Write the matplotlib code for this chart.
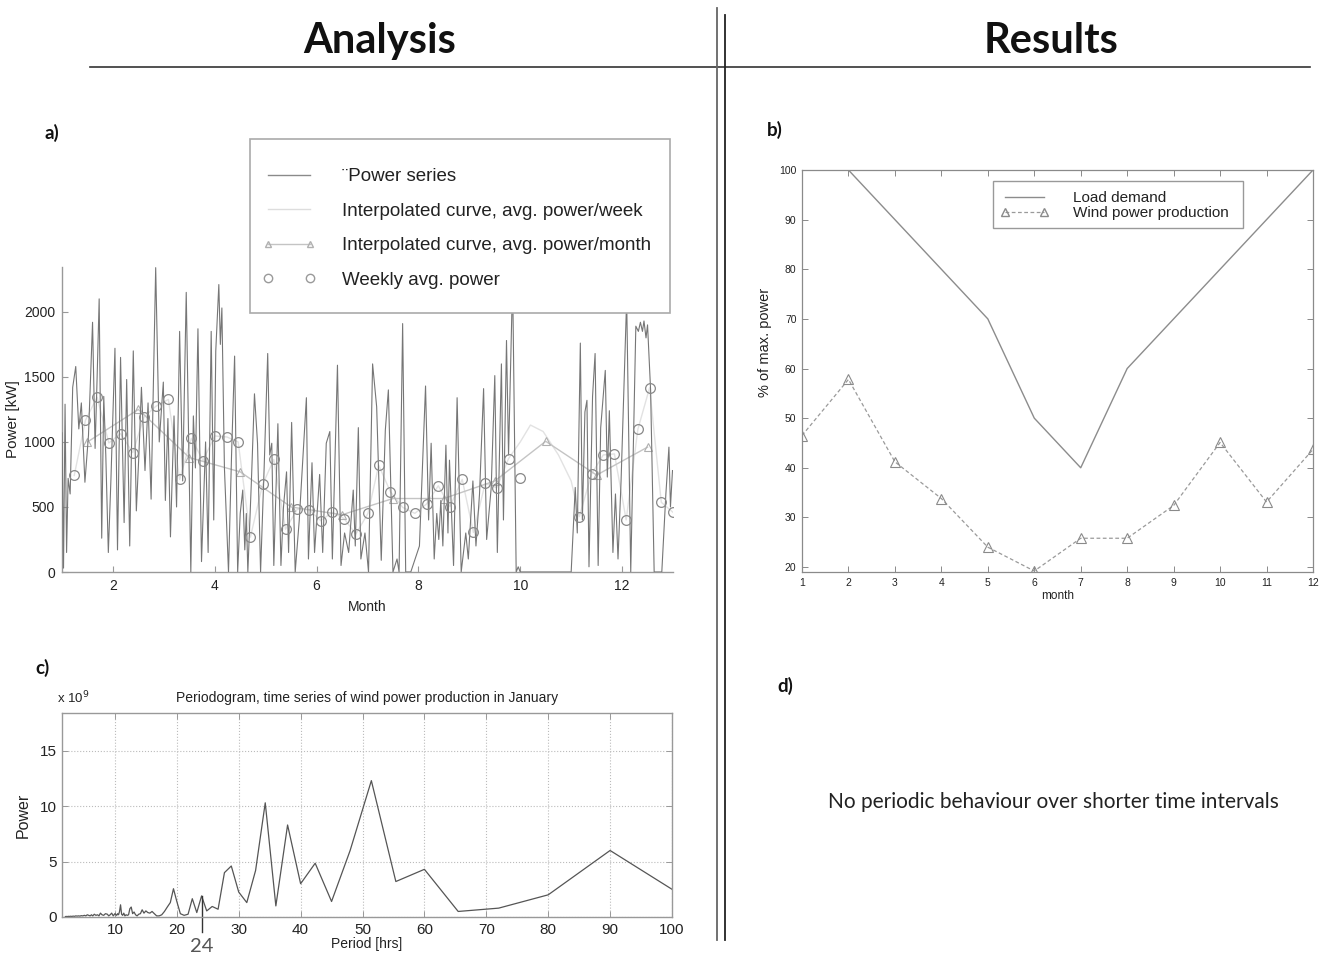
import numpy as np
import matplotlib
matplotlib.use("Agg")
import matplotlib.pyplot as plt
from matplotlib.lines import Line2D
from matplotlib.patches import Rectangle

# ---------------- panel a data ----------------
power_month = [1.00, 1.03, 1.06, 1.09, 1.12, 1.16, 1.21, 1.27, 1.33, 1.38, 1.45, 1.52, 1.60, 1.65, 1.69,
               1.73, 1.78, 1.82, 1.86, 1.91, 1.96, 2.04, 2.09, 2.15, 2.22, 2.27, 2.33, 2.40, 2.46, 2.51,
               2.56, 2.63, 2.69, 2.75, 2.84, 2.91, 2.99, 3.03, 3.08, 3.13, 3.20, 3.25, 3.31, 3.37, 3.44,
               3.53, 3.58, 3.62, 3.67, 3.74, 3.82, 3.87, 3.93, 3.98, 4.02, 4.08, 4.11, 4.14, 4.19, 4.27,
               4.33, 4.39, 4.45, 4.50, 4.55, 4.59, 4.62, 4.65, 4.72, 4.78, 4.84, 4.90, 4.97, 5.04, 5.08,
               5.12, 5.16, 5.24, 5.30, 5.35, 5.41, 5.45, 5.51, 5.58, 5.66, 5.72, 5.80, 5.84, 5.91, 5.96,
               6.06, 6.12, 6.19, 6.26, 6.31, 6.41, 6.48, 6.55, 6.63, 6.72, 6.76, 6.82, 6.87, 6.95, 7.02,
               7.10, 7.18, 7.27, 7.35, 7.41, 7.50, 7.58, 7.62, 7.69, 7.75, 7.85, 8.02, 8.14, 8.20, 8.25,
               8.31, 8.36, 8.40, 8.44, 8.48, 8.54, 8.58, 8.61, 8.69, 8.76, 8.84, 8.93, 8.98, 9.07, 9.13,
               9.20, 9.28, 9.34, 9.43, 9.50, 9.55, 9.63, 9.67, 9.73, 9.77, 9.85, 9.92, 9.96, 10.00, 11.00,
               11.08, 11.12, 11.18, 11.22, 11.27, 11.31, 11.35, 11.42, 11.47, 11.53, 11.58, 11.67, 11.71,
               11.75, 11.82, 11.87, 11.92, 11.98, 12.09, 12.17, 12.27, 12.32, 12.36, 12.40, 12.43, 12.47,
               12.50, 12.56, 12.63, 12.78, 12.82, 12.86, 12.92, 12.95, 12.99]
power_kw = [1070, 30, 1290, 150, 720, 600, 1420, 1580, 1100, 1300, 690, 1050, 1920, 950, 1500,
            2100, 260, 1350, 900, 150, 700, 1720, 170, 1650, 380, 1480, 200, 1700, 470, 900,
            1420, 780, 1300, 560, 2340, 1000, 1460, 550, 1180, 270, 1200, 500, 1850, 700, 2150,
            0, 1200, 800, 1870, 80, 1000, 150, 1850, 400, 1700, 2210, 1750, 2030, 800, 0,
            900, 1660, 0, 450, 630, 170, 450, 0, 700, 1370, 990, 0, 800, 1680, 900,
            990, 50, 1140, 50, 500, 770, 150, 1150, 0, 400, 800, 1340, 100, 840, 150,
            750, 150, 990, 1080, 100, 1590, 50, 300, 150, 630, 200, 1110, 100, 300, 0,
            1600, 1270, 90, 1090, 1400, 0, 100, 0, 1910, 0, 0, 200, 1430, 400, 990,
            100, 450, 250, 550, 200, 975, 300, 860, 50, 1340, 0, 300, 100, 700, 200,
            600, 1410, 250, 650, 1510, 150, 1600, 400, 1780, 900, 2250, 0, 40, 0, 0,
            650, 300, 1760, 400, 1230, 1320, 40, 1350, 1680, 50, 1110, 1550, 730,
            1240, 150, 600, 100, 700, 2100, 0, 1890, 1850, 1920, 1850, 1930, 1800,
            1900, 1400, 0, 0, 300, 600, 960, 500, 780]

week_month = [1.24, 1.46, 1.69, 1.92, 2.15, 2.39, 2.61, 2.84, 3.09, 3.31, 3.54, 3.77, 4.00, 4.24,
              4.46, 4.70, 4.94, 5.16, 5.39, 5.62, 5.86, 6.08, 6.31, 6.54, 6.77, 7.01, 7.22, 7.45,
              7.69, 7.93, 8.16, 8.39, 8.62, 8.86, 9.08, 9.31, 9.54, 9.77, 10.00, 11.16, 11.40,
              11.63, 11.85, 12.08, 12.31, 12.54, 12.77, 13.00]
week_kw = [742, 1166, 1344, 992, 1064, 918, 1191, 1273, 1327, 712, 1028, 857, 1046, 1038,
           1000, 268, 673, 865, 329, 482, 477, 395, 459, 411, 291, 451, 821, 617,
           497, 451, 523, 663, 503, 712, 304, 681, 648, 872, 724, 426, 753,
           900, 908, 400, 1097, 1416, 536, 459]

weekcurve_month = [1.24, 1.46, 1.69, 1.92, 2.15, 2.39, 2.61, 2.84, 3.09, 3.31, 3.54, 3.77, 4.00,
                   4.24, 4.46, 4.70, 4.94, 5.16, 5.39, 5.62, 5.86, 6.08, 6.31, 6.54, 6.77, 7.01,
                   7.22, 7.45, 7.69, 7.93, 8.16, 8.39, 8.62, 8.86, 9.08, 9.31, 9.54, 9.77, 10.00,
                   10.20, 10.45, 10.75, 11.00, 11.16, 11.40, 11.63, 11.85, 12.08, 12.31, 12.54,
                   12.77, 13.00]
weekcurve_kw = [742, 1166, 1344, 992, 1064, 918, 1191, 1273, 1327, 712, 1028, 857, 1046,
                1038, 1000, 268, 673, 865, 329, 482, 477, 395, 459, 411, 291, 451,
                821, 617, 497, 451, 523, 663, 503, 712, 304, 681, 648, 872, 1000,
                1130, 1080, 900, 700, 426, 753, 900, 908, 400, 1097, 1416,
                536, 459]

month_mid = [1.5, 2.5, 3.5, 4.5, 5.5, 6.5, 7.5, 8.5, 9.5, 10.5, 11.5, 12.5]
month_kw = [1000, 1250, 880, 770, 500, 440, 565, 565, 700, 1005, 745, 960]

legend_a = ["\u00a8Power series", "Interpolated curve, avg. power/week",
            "Interpolated curve, avg. power/month", "Weekly avg. power"]

# ---------------- panel b data ----------------
months_b = [1, 2, 3, 4, 5, 6, 7, 8, 9, 10, 11, 12]
load_pct = [100, 100, 90, 80, 70, 50, 40, 60, 70, 80, 90, 100]
wind_pct = [46.5, 57.8, 41.2, 33.8, 24.0, 19.2, 25.8, 25.8, 32.4, 45.1, 33.1, 43.7]
legend_b = ["Load demand", "Wind power production"]

# ---------------- panel c data ----------------
record_hours = 720
harmonic = [7, 8, 9, 10, 11, 12, 13, 14, 15, 16, 17, 18, 19, 20, 21, 22, 23, 24, 25, 26, 27, 28,
            29, 30, 31, 32, 33, 34, 35, 36, 37, 38, 39, 40, 41, 42, 43, 44, 45, 46, 47, 48, 49,
            50, 51, 52, 53, 54, 55, 56, 57, 58, 59, 60, 61, 62, 63, 64, 65, 66, 67, 68, 69,
            70, 72, 74, 76, 78, 80, 82, 85, 88, 91, 94, 97, 100, 104, 108, 112, 116, 120, 125,
            130, 136, 142, 150, 158, 166, 175, 185, 196, 208, 222, 236, 252, 270, 290, 312, 336, 360]
perio_power = [1.5, 6.0, 2.0, 0.8, 0.5, 4.3, 3.2, 12.3, 6.0, 1.4, 4.85, 3.0, 8.3, 1.0, 10.3, 4.2,
               1.3, 2.25, 4.6, 4.0, 0.7, 0.95, 0.55, 1.9, 0.4, 1.65, 0.25, 0.15, 0.3, 1.4, 2.55,
               1.3, 0.9, 0.5, 0.2, 0.1, 0.1, 0.3, 0.5, 0.35, 0.4, 0.55, 0.35, 0.65, 0.3, 0.25,
               0.1, 0.2, 0.45, 0.3, 0.9, 0.75, 0.2, 0.15, 0.2, 0.1, 0.35, 0.15, 0.25, 1.1, 0.5,
               0.2, 0.3, 0.15, 0.3, 0.1, 0.35, 0.2, 0.1, 0.25, 0.3, 0.15, 0.2, 0.35, 0.1, 0.2,
               0.15, 0.25, 0.1, 0.2, 0.1, 0.15, 0.2, 0.1, 0.15, 0.1, 0.12, 0.08, 0.1, 0.08, 0.1,
               0.06, 0.08, 0.05, 0.07, 0.05, 0.06, 0.04, 0.05, 0.04]

# ---------------- figure ----------------
W, H = 1324, 956
fig = plt.figure(figsize=(W / 100, H / 100), dpi=100)
SANS = ["Liberation Sans", "DejaVu Sans"]
plt.rcParams["font.family"] = SANS
HEAD = ["Lato", "DejaVu Sans"]


def fx(px):
    return px / W


def fy(py):
    return 1 - py / H


def rect(l, t, r, b):
    return [fx(l), fy(b), (r - l) / W, (b - t) / H]


# headers and separators
fig.text(fx(380), fy(41), "Analysis", ha="center", va="center", fontsize=30,
         fontweight="bold", family=HEAD, color="#111111")
fig.text(fx(1051), fy(41), "Results", ha="center", va="center", fontsize=30,
         fontweight="bold", family=HEAD, color="#111111")
fig.add_artist(Line2D([fx(90), fx(1310)], [fy(66.5), fy(66.5)], color="#333333", lw=1.2))
fig.add_artist(Line2D([fx(717), fx(717)], [fy(8), fy(940)], color="#666666", lw=1.3))
fig.add_artist(Line2D([fx(725), fx(725)], [fy(15), fy(940)], color="#222222", lw=1.3))

for lab, x, y in [("a)", 52, 133), ("b)", 775, 130), ("c)", 42, 668), ("d)", 785, 686)]:
    fig.text(fx(x), fy(y), lab, ha="center", va="center", fontsize=13.5, fontweight="bold",
             family=HEAD, color="#111111")

fig.text(fx(1053), fy(802), "No periodic behaviour over shorter time intervals", ha="center",
         va="center", fontsize=15, family=HEAD, color="#222222")

# ---------------- panel a ----------------
ax = fig.add_axes(rect(62, 267, 673, 572))
c_series = "#767676"
c_week = "#e2e2e2"
c_month = "#c4c4c4"
c_circ = "#888888"
ax.plot(weekcurve_month, weekcurve_kw, color=c_week, lw=1.0, zorder=1)
ax.plot(month_mid, month_kw, color=c_month, lw=1.0, marker="^", ms=6, mfc="none",
        mec="#b0b0b0", mew=0.8, zorder=2)
ax.plot(power_month, power_kw, color=c_series, lw=0.8, zorder=3)
ax.plot(week_month, week_kw, ls="none", marker="o", ms=7, mfc="none", mec=c_circ, mew=0.9,
        zorder=4)
ax.set_xlim(1, 13)
ax.set_ylim(0, 2345)
ax.set_xticks([2, 4, 6, 8, 10, 12])
ax.set_yticks([0, 500, 1000, 1500, 2000])
for s in ["top", "right"]:
    ax.spines[s].set_visible(False)
for s in ["left", "bottom"]:
    ax.spines[s].set_color("#999999")
    ax.spines[s].set_linewidth(1.0)
ax.tick_params(direction="in", length=4, width=0.8, color="#999999", labelsize=10,
               labelcolor="#222222", pad=5)
ax.set_xlabel("Month", fontsize=10, color="#222222", labelpad=5)
ax.set_ylabel("Power [kW]", fontsize=11, color="#222222", labelpad=3)

# legend a (manual frame above the data)
fig.add_artist(Rectangle((fx(250), fy(313)), (670 - 250) / W, (313 - 139) / H,
                         transform=fig.transFigure, facecolor="white", edgecolor="#aaaaaa",
                         lw=1.2, zorder=5))
hand_a = [Line2D([], [], color="#8a8a8a", lw=1.0),
          Line2D([], [], color="#dddddd", lw=1.0),
          Line2D([], [], color="#c4c4c4", lw=1.0, marker="^", ms=5, mfc="none", mec="#b0b0b0"),
          Line2D([], [], ls="none", marker="o", ms=6, mfc="none", mec="#9a9a9a")]
leg_a = fig.legend(hand_a, legend_a, loc="upper left", bbox_to_anchor=(fx(262), fy(168)),
                   bbox_transform=fig.transFigure, frameon=False, fontsize=13.5, borderpad=0,
                   borderaxespad=0, handlelength=2.85, handletextpad=1.4, labelspacing=0.93,
                   numpoints=2)
leg_a.set_zorder(6)
for t in leg_a.get_texts():
    t.set_color("#222222")

# ---------------- panel b ----------------
bx = fig.add_axes(rect(802, 170, 1313, 572))
bx.plot(months_b, load_pct, color="#8c8c8c", lw=1.0)
bx.plot(months_b, wind_pct, color="#9a9a9a", lw=0.9, ls=(0, (3, 2)), marker="^", ms=7,
        mfc="none", mec="#8a8a8a", mew=0.8)
bx.set_xlim(1, 12)
bx.set_ylim(19, 100)
bx.set_xticks(months_b)
bx.set_yticks([20, 30, 40, 50, 60, 70, 80, 90, 100])
for s in bx.spines.values():
    s.set_color("#8a8a8a")
    s.set_linewidth(0.9)
bx.tick_params(direction="in", length=4, width=0.7, color="#8a8a8a", labelsize=7.5,
               labelcolor="#222222", top=True, right=True, pad=4)
bx.set_xlabel("month", fontsize=8.5, color="#222222", labelpad=2)
bx.set_ylabel("% of max. power", fontsize=10.5, color="#222222")
bx.yaxis.set_label_coords(-0.058, 0.57)

fig.add_artist(Rectangle((fx(993), fy(228)), (1243 - 993) / W, (228 - 181) / H,
                         transform=fig.transFigure, facecolor="white", edgecolor="#999999",
                         lw=1.0, zorder=5))
hand_b = [Line2D([], [], color="#8c8c8c", lw=1.0),
          Line2D([], [], color="#9a9a9a", lw=0.9, ls=(0, (3, 2)), marker="^", ms=6,
                 mfc="none", mec="#8a8a8a")]
leg_b = fig.legend(hand_b, legend_b, loc="upper left", bbox_to_anchor=(fx(1000), fy(191)),
                   bbox_transform=fig.transFigure, frameon=False, fontsize=11, borderpad=0,
                   borderaxespad=0, handlelength=3.2, handletextpad=1.55, labelspacing=0.06,
                   numpoints=2)
leg_b.set_zorder(6)
for t in leg_b.get_texts():
    t.set_color("#222222")

# ---------------- panel c ----------------
cx = fig.add_axes(rect(62, 713, 672, 917))
periods = [record_hours / k for k in harmonic]
cx.plot(periods, perio_power, color="#555555", lw=0.9)
cx.set_xlim(1.45, 100)
cx.set_ylim(0, 18.4)
cx.set_xticks([10, 20, 30, 40, 50, 60, 70, 80, 90, 100])
cx.set_yticks([0, 5, 10, 15])
cx.grid(True, ls=":", color="#bbbbbb", lw=0.8)
for s in cx.spines.values():
    s.set_color("#999999")
    s.set_linewidth(1.0)
cx.tick_params(direction="in", length=4, width=0.7, color="#999999", labelsize=11,
               labelcolor="#222222", top=True, right=True, pad=4)
cx.set_xlabel("Period [hrs]", fontsize=10, color="#222222", labelpad=0)
cx.set_ylabel("Power", fontsize=11.5, color="#222222", labelpad=6)
cx.set_title("Periodogram, time series of wind power production in January", fontsize=10,
             color="#222222", pad=8)
cx.text(-0.008, 1.035, r"x 10$^{9}$", transform=cx.transAxes, fontsize=9.5, color="#222222",
        ha="left", va="bottom")
trans = cx.get_xaxis_transform()
cx.plot([24, 24], [0.103, -0.074], color="#333333", lw=1.0, transform=trans, clip_on=False)
cx.text(24, -0.145, "24", transform=trans, ha="center", va="center", fontsize=14.5,
        color="#555555", family=HEAD)

fig.savefig("out.png", dpi=100)
